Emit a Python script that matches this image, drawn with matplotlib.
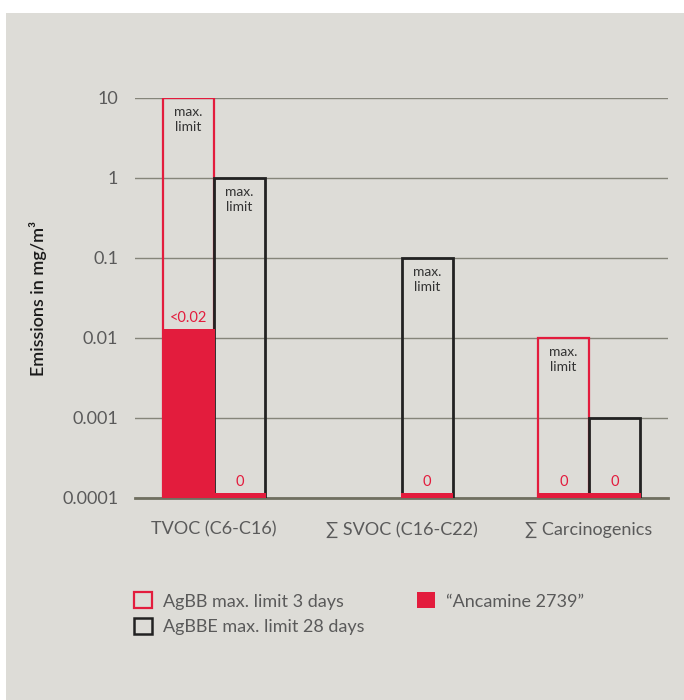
import matplotlib.pyplot as plt
from matplotlib.patches import Rectangle, Patch

plt.rcParams['font.family'] = ['Lato', 'DejaVu Sans']

categories = ["TVOC (C6-C16)", "∑ SVOC (C16-C22)", "∑ Carcinogenics"]
# limits per category (None where no limit applies)
agbb_3d = [10, None, 0.01]
agbbe_28d = [1, 0.1, 0.001]
# measured emissions of the product (0 shown as a thin stub)
ancamine = [0.013, 0.000115, 0.000115]
ancamine_stub_right = [0.000115, 0.000115, 0.000115]
ancamine_labels = ["<0.02", "0", "0"]
stub_labels = ["0", "0", "0"]

yticks = [10, 1, 0.1, 0.01, 0.001, 0.0001]
ytick_labels = ["10", "1", "0.1", "0.01", "0.001", "0.0001"]

RED = "#e31c3d"
DARK = "#222222"
GRID = "#85857a"
BG = "#dddcd7"
TXT = "#5a5a5a"

fig = plt.figure(figsize=(6.84, 7.0), dpi=100)
fig.patches.append(Rectangle((6 / 684, 0), 1, 1 - 13 / 700, transform=fig.transFigure,
                             facecolor=BG, edgecolor="none", zorder=-10))

ax = fig.add_axes([135 / 684, 1 - 498 / 700, 533 / 684, 400 / 700])
ax.set_facecolor("none")
ax.set_yscale("log")
ax.set_ylim(1e-4, 10)
ax.set_xlim(-0.421, 2.421)

w = 0.272
base = 1e-4
for i in range(len(categories)):
    xl = i - w / 2
    xr = i + w / 2
    if agbb_3d[i] is not None:
        ax.bar(xl, agbb_3d[i] - base, bottom=base, width=w, facecolor="none",
               edgecolor=RED, linewidth=1.6, zorder=3)
        ax.annotate("max.\nlimit", (xl, agbb_3d[i]), xytext=(0, -6), textcoords="offset points",
                    ha="center", va="top", fontsize=10, color="#333333", linespacing=1.3, zorder=5)
    ax.bar(xr, agbbe_28d[i] - base, bottom=base, width=w, facecolor="none",
           edgecolor=DARK, linewidth=2.0, zorder=3)
    if agbbe_28d[i] > 0.005:
        ax.annotate("max.\nlimit", (xr, agbbe_28d[i]), xytext=(0, -6), textcoords="offset points",
                    ha="center", va="top", fontsize=10, color="#333333", linespacing=1.3, zorder=5)

# product emissions
for i in range(len(categories)):
    xl = i - w / 2
    xr = i + w / 2
    if i == 0 or agbb_3d[i] is not None:
        ax.bar(xl, ancamine[i] - base, bottom=base, width=w + 0.008, color=RED, linewidth=0, zorder=4)
        ax.annotate(ancamine_labels[i], (xl, ancamine[i]), xytext=(0, 3), textcoords="offset points",
                    ha="center", va="bottom", fontsize=10.5, color=RED, zorder=5)
    ax.bar(xr, ancamine_stub_right[i] - base, bottom=base, width=w + 0.008, color=RED,
           linewidth=0, zorder=4)
    ax.annotate(stub_labels[i], (xr, ancamine_stub_right[i]), xytext=(0, 3), textcoords="offset points",
                ha="center", va="bottom", fontsize=10.5, color=RED, zorder=5)

ax.set_yticks(yticks)
ax.set_yticklabels(ytick_labels, fontsize=13, color=TXT)
ax.yaxis.set_minor_locator(plt.NullLocator())
ax.set_xticks(range(len(categories)))
ax.set_xticklabels(categories, fontsize=13, color=TXT)
ax.tick_params(axis="both", length=0)
ax.tick_params(axis="y", pad=12)
ax.tick_params(axis="x", pad=17)
ax.grid(axis="y", color=GRID, linewidth=1.0, zorder=1)
ax.set_axisbelow(True)
for side in ["top", "right", "left"]:
    ax.spines[side].set_visible(False)
ax.spines["bottom"].set_color("#6f6f60")
ax.spines["bottom"].set_linewidth(2.0)

fig.text(38 / 684, 1 - 298 / 700, "Emissions in mg/m³", rotation=90, ha="center", va="center",
         fontsize=13, color="#1a1a1a", fontweight="semibold")

handles = [
    Patch(facecolor="none", edgecolor=RED, linewidth=1.6, label="AgBB max. limit 3 days"),
    Patch(facecolor="none", edgecolor=DARK, linewidth=1.8, label="AgBBE max. limit 28 days"),
    Patch(facecolor=RED, edgecolor=RED, linewidth=0, label="“Ancamine 2739”"),
]
fig.legend(handles=handles, ncol=2, loc="upper left", bbox_to_anchor=(118 / 684, 1 - 576 / 700),
           frameon=False, fontsize=13, handlelength=1.0, handleheight=1.0, handletextpad=0.6,
           columnspacing=2.9, labelspacing=0.45, labelcolor=TXT)

fig.savefig("out.png", dpi=100)
